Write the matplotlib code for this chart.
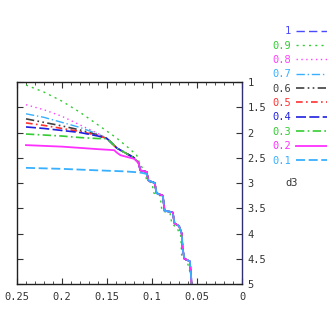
import matplotlib
matplotlib.use("Agg")
import matplotlib.pyplot as plt
from matplotlib.ticker import MultipleLocator

plt.rcParams['font.family'] = ['DejaVu Sans Mono']

labels = ["1", "0.9", "0.8", "0.7", "0.6", "0.5", "0.4", "0.3", "0.2", "0.1"]
colors = ["#4a4aff", "#33cc33", "#ff40ff", "#38b0ff", "#404040",
          "#ff3030", "#2020e0", "#33cc33", "#ff30ff", "#38b0ff"]
styles = [(0, (6, 3)), (0, (1.5, 3)), (0, (1, 2.5)), (0, (6, 2, 1, 2)),
          (0, (5, 2, 1, 2, 1, 2)), (0, (4, 2, 1, 2)), (0, (6, 2)),
          (0, (5, 2, 1, 2)), "-", (0, (5, 2))]
widths = [1.0, 1.0, 1.0, 1.0, 1.2, 1.2, 1.2, 1.2, 1.3, 1.3]

tail_x = [0.15, 0.139, 0.13, 0.12, 0.115, 0.113, 0.106, 0.104, 0.097, 0.095,
          0.088, 0.086, 0.077, 0.075, 0.070, 0.067, 0.066, 0.064, 0.058, 0.057, 0.056]
tail_y = [2.12, 2.31, 2.40, 2.50, 2.60, 2.75, 2.78, 2.95, 3.00, 3.20,
          3.25, 3.55, 3.58, 3.80, 3.85, 4.00, 4.30, 4.50, 4.55, 4.75, 5.00]

head_x = [0.24, 0.22, 0.20, 0.18, 0.16]
heads_y = {
    "1":   None,
    "0.8": [1.45, 1.55, 1.68, 1.85, 2.02],
    "0.7": [1.63, 1.70, 1.80, 1.90, 2.03],
    "0.6": [1.73, 1.80, 1.87, 1.95, 2.05],
    "0.5": [1.81, 1.86, 1.92, 1.98, 2.06],
    "0.4": [1.89, 1.92, 1.96, 2.00, 2.07],
    "0.3": [2.03, 2.05, 2.07, 2.10, 2.12],
}

x09 = [0.24, 0.22, 0.20, 0.18, 0.16, 0.14, 0.125, 0.117, 0.113, 0.108, 0.106,
       0.100, 0.098, 0.091, 0.089, 0.080, 0.078, 0.072, 0.068, 0.067, 0.061, 0.058, 0.055]
y09 = [1.06, 1.20, 1.38, 1.60, 1.85, 2.10, 2.32, 2.45, 2.65, 2.75, 2.95,
       3.00, 3.20, 3.25, 3.55, 3.60, 3.80, 3.90, 4.05, 4.45, 4.55, 4.75, 5.00]

x02 = [0.24, 0.20, 0.16, 0.142, 0.139, 0.135, 0.12, 0.115, 0.113, 0.106, 0.104,
       0.097, 0.095, 0.088, 0.086, 0.077, 0.075, 0.070, 0.067, 0.066, 0.064, 0.058, 0.057, 0.056]
y02 = [2.25, 2.28, 2.33, 2.35, 2.40, 2.45, 2.52, 2.60, 2.75, 2.78, 2.95,
       3.00, 3.20, 3.25, 3.55, 3.58, 3.80, 3.85, 4.00, 4.30, 4.50, 4.55, 4.75, 5.00]

x01 = [0.24, 0.20, 0.16, 0.13, 0.115, 0.111, 0.106, 0.104, 0.097, 0.095,
       0.088, 0.086, 0.077, 0.075, 0.070, 0.067, 0.066, 0.064, 0.058, 0.057, 0.056]
y01 = [2.70, 2.72, 2.75, 2.77, 2.79, 2.80, 2.82, 2.95, 3.00, 3.20,
       3.25, 3.55, 3.58, 3.80, 3.85, 4.00, 4.30, 4.50, 4.55, 4.75, 5.00]

fig = plt.figure(figsize=(3.27, 3.16), dpi=100)
ax = fig.add_axes([17/327, 1-284/316, 225/327, 202/316])

for lab, c, ls, lw in zip(labels, colors, styles, widths):
    if lab == "0.9":
        xs, ys = x09, y09
    elif lab == "0.2":
        xs, ys = x02, y02
    elif lab == "0.1":
        xs, ys = x01, y01
    elif heads_y.get(lab) is None:
        xs, ys = tail_x, tail_y
    else:
        xs, ys = head_x + tail_x, heads_y[lab] + tail_y
    ax.plot(xs, ys, color=c, linestyle=ls, lw=lw, label=lab)

ax.set_xlim(0.25, 0)
ax.set_ylim(5, 1)
ax.xaxis.set_major_locator(MultipleLocator(0.05))
ax.xaxis.set_minor_locator(MultipleLocator(0.01))
ax.yaxis.set_major_locator(MultipleLocator(0.5))
ax.set_xticks([0.25, 0.2, 0.15, 0.1, 0.05, 0])
ax.set_xticklabels(["0.25", "0.2", "0.15", "0.1", "0.05", "0"])
ax.set_yticks([1, 1.5, 2, 2.5, 3, 3.5, 4, 4.5, 5])
ax.set_yticklabels(["1", "1.5", "2", "2.5", "3", "3.5", "4", "4.5", "5"])
ax.yaxis.tick_right()
ax.tick_params(axis='both', which='both', direction='in', top=True, bottom=True,
               left=True, right=True, labelsize=7.5, colors='#333333')
ax.tick_params(which='major', length=4)
ax.tick_params(which='minor', length=2)
ax.tick_params(axis='y', pad=4)
ax.tick_params(axis='x', pad=6)
for s in ax.spines.values():
    s.set_linewidth(1.0)
    s.set_color('#202020')
ax.spines['right'].set_color('#303070')

leg = ax.legend(loc='upper left', bbox_to_anchor=(268/327, 1-22/316),
                bbox_transform=fig.transFigure, frameon=False, markerfirst=False,
                labelcolor='linecolor', fontsize=7.5, handlelength=3.2,
                handletextpad=0.5, labelspacing=0.42, borderaxespad=0)
fig.text(292/327, 1-183/316, "d3", fontsize=7.5, ha='center', va='center', color='#333333')

fig.savefig("out.png", dpi=100)
